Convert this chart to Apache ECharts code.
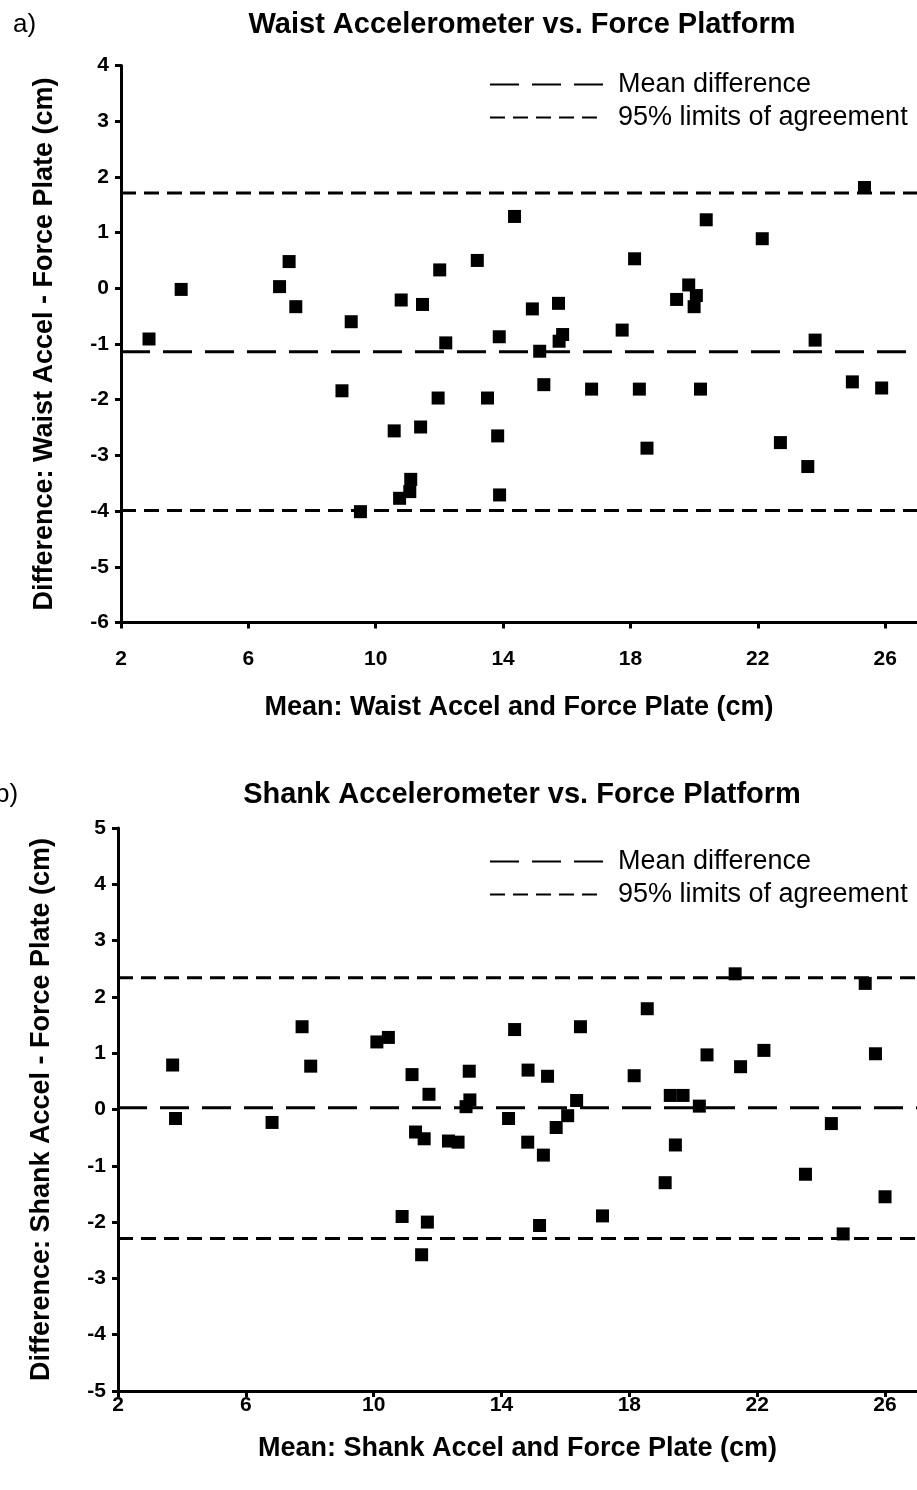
<!DOCTYPE html>
<html><head><meta charset="utf-8">
<script src="https://cdn.jsdelivr.net/npm/echarts@6/dist/echarts.min.js"></script>
<style>html,body{margin:0;padding:0;background:#fff}#c{width:917px;height:1490px}</style>
</head><body><div id="c"></div>
<script>
// ---- Data ----
const panelLabels = ['a)', 'b)'];
const titles = ['Waist Accelerometer vs. Force Platform', 'Shank Accelerometer vs. Force Platform'];
const xNames = ['Mean: Waist Accel and Force Plate (cm)', 'Mean: Shank Accel and Force Plate (cm)'];
const yNames = ['Difference: Waist Accel - Force Plate (cm)', 'Difference: Shank Accel - Force Plate (cm)'];
const legendNames = ['Mean difference', '95% limits of agreement'];

const waistMean = [2.88, 3.89, 6.98, 7.28, 7.49, 8.94, 9.23, 9.52, 10.58, 10.75, 10.8, 11.07, 11.1, 11.41, 11.47, 11.96,
  12.01, 12.2, 13.19, 13.51, 13.83, 13.88, 13.89, 14.36, 14.92, 15.15, 15.28, 15.74, 15.76, 15.87, 16.78, 17.74,
  18.13, 18.28, 18.52, 19.45, 19.83, 20.0, 20.07, 20.2, 20.38, 22.14, 22.71, 23.57, 23.8, 24.97, 25.35, 25.89];
const waistDiff = [-0.91, -0.02, 0.03, 0.48, -0.33, -1.84, -0.6, -4.01, -2.56, -3.77, -0.21, -3.65, -3.43, -2.49, -0.29, -1.97,
  0.33, -0.98, 0.5, -1.97, -2.65, -0.87, -3.71, 1.29, -0.37, -1.13, -1.73, -0.27, -0.95, -0.83, -1.81, -0.75,
  0.53, -1.81, -2.87, -0.2, 0.06, -0.33, -0.13, -1.81, 1.23, 0.89, -2.77, -3.2, -0.93, -1.68, 1.81, -1.79];
const waistMeanDiff = -1.14;
const waistLimits = [1.71, -3.99];

const shankMean = [3.71, 3.8, 6.82, 7.76, 8.03, 10.1, 10.46, 10.89, 11.2, 11.31, 11.5, 11.58, 11.68, 11.73, 12.34, 12.64,
  12.89, 12.99, 13.01, 14.22, 14.41, 14.82, 14.83, 15.19, 15.31, 15.44, 15.71, 16.07, 16.35, 16.47, 17.16, 18.15,
  18.56, 19.12, 19.28, 19.44, 19.68, 20.19, 20.43, 21.31, 21.48, 22.21, 23.51, 24.32, 24.69, 25.38, 25.7, 26.0];
const shankDiff = [0.79, -0.16, -0.23, 1.47, 0.77, 1.2, 1.28, -1.9, 0.62, -0.4, -2.58, -0.52, -2.0, 0.27, -0.56, -0.58,
  0.05, 0.68, 0.17, -0.16, 1.42, -0.58, 0.70, -2.06, -0.81, 0.59, -0.32, -0.11, 0.16, 1.47, -1.89, 0.6,
  1.79, -1.3, 0.25, -0.63, 0.25, 0.06, 0.97, 2.41, 0.76, 1.05, -1.15, -0.25, -2.21, 2.24, 0.99, -1.55];
const shankMeanDiff = 0.03;
const shankLimits = [2.34, -2.29];

const xRange = [2, 27];
const xInterval = 4;
const yRanges = [[-6, 4], [-5, 5]];
const yInterval = 1;

// ---- Chart ----
const FONT = '"Liberation Sans", Arial, Helvetica, sans-serif';
const grids = [
  { left: 121, top: 65.5, width: 797, height: 557 },
  { left: 118, top: 828, width: 802, height: 563 }
];
const titleTops = [5, 775];
const legendTops = [71, 848];
const xLabelMargins = [26, 4];
const xNameGaps = [72, 44];

function axisCommon() {
  return {
    axisLine: { show: true, onZero: false, lineStyle: { color: '#000', width: 3 } },
    axisTick: { show: true, inside: false, length: 6, lineStyle: { color: '#000', width: 3 } },
    splitLine: { show: false }
  };
}

const option = {
  backgroundColor: '#fff',
  animation: false,
  title: [],
  legend: [],
  grid: grids,
  xAxis: [],
  yAxis: [],
  series: []
};

const means = [waistMean, shankMean];
const diffs = [waistDiff, shankDiff];
const meanDiffs = [waistMeanDiff, shankMeanDiff];
const limits = [waistLimits, shankLimits];

for (let i = 0; i < 2; i++) {
  const suffix = i ? ' ' : '';
  option.title.push({
    text: titles[i], left: 517, top: titleTops[i], textAlign: 'center',
    textStyle: { fontFamily: FONT, fontSize: 29, fontWeight: 'bold', color: '#000' }
  });
  option.title.push({
    text: panelLabels[i], left: i === 0 ? 8 : -10, top: titleTops[i] + 2,
    textStyle: { fontFamily: FONT, fontSize: 26, fontWeight: 'normal', color: '#000' }
  });
  option.legend.push({
    data: legendNames.map(n => n + suffix),
    formatter: n => n.trim(),
    orient: 'vertical', left: 489, top: legendTops[i], padding: 0,
    itemWidth: 113, itemHeight: 14, itemGap: 6,
    selectedMode: false,
    itemStyle: { opacity: 0 },
    textStyle: { fontFamily: FONT, fontSize: 27, color: '#000', padding: [0, 0, 0, 10] }
  });
  option.xAxis.push(Object.assign(axisCommon(), {
    type: 'value', gridIndex: i, min: xRange[0], max: xRange[1], interval: xInterval,
    name: xNames[i], nameLocation: 'middle', nameGap: xNameGaps[i],
    nameTextStyle: { fontFamily: FONT, fontSize: 27, fontWeight: 'bold', color: '#000' },
    axisLabel: { margin: xLabelMargins[i], showMaxLabel: false, fontFamily: FONT, fontSize: 21, fontWeight: 'bold', color: '#000' }
  }));
  option.yAxis.push(Object.assign(axisCommon(), {
    type: 'value', gridIndex: i, min: yRanges[i][0], max: yRanges[i][1], interval: yInterval,
    name: yNames[i], nameLocation: 'middle', nameGap: 63, nameRotate: 90,
    nameTextStyle: { fontFamily: FONT, fontSize: 27, fontWeight: 'bold', color: '#000' },
    axisLabel: { margin: 12, fontFamily: FONT, fontSize: 21, fontWeight: 'bold', color: '#000' }
  }));
  option.series.push({
    type: 'line', name: legendNames[0] + suffix, xAxisIndex: i, yAxisIndex: i,
    data: [[xRange[0], meanDiffs[i]], [xRange[1], meanDiffs[i]]],
    symbol: 'none', showSymbol: false, silent: true, z: 1,
    lineStyle: { color: '#000', width: 3, type: [29, 13] }, itemStyle: { color: '#000' }
  });
  for (let k = 0; k < 2; k++) {
    option.series.push({
      type: 'line', name: legendNames[1] + suffix, xAxisIndex: i, yAxisIndex: i,
      data: [[xRange[0], limits[i][k]], [xRange[1], limits[i][k]]],
      symbol: 'none', showSymbol: false, silent: true, z: 1,
      lineStyle: { color: '#000', width: 3, type: [15, 8] }, itemStyle: { color: '#000' }
    });
  }
  option.series.push({
    type: 'scatter', name: 'data' + i, xAxisIndex: i, yAxisIndex: i,
    data: means[i].map((m, j) => [m, diffs[i][j]]),
    symbol: 'rect', symbolSize: 13, z: 3,
    itemStyle: { color: '#000', opacity: 1 }
  });
}

const chart = echarts.init(document.getElementById('c'), null, { renderer: 'canvas' });
chart.setOption(option);
</script>
</body></html>
